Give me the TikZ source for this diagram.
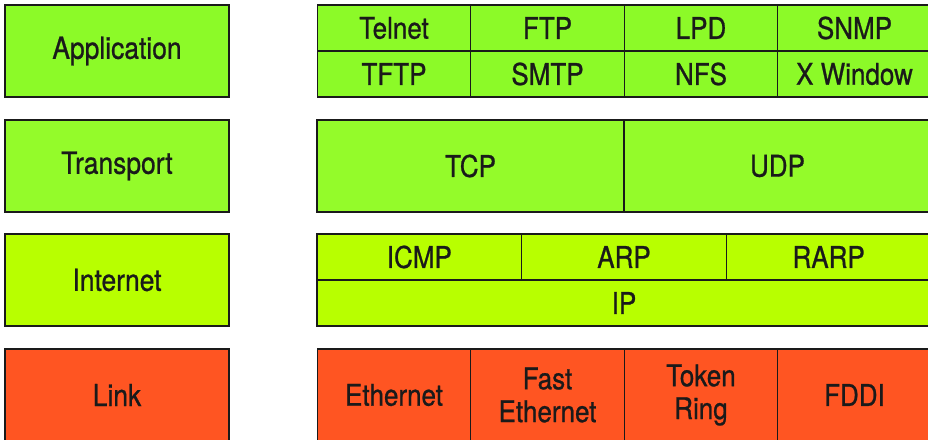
\documentclass[tikz,border=0pt]{standalone}
\usepackage{fontspec}
\setmainfont{TeX Gyre Heros}[FakeStretch=0.87, FakeBold=0.8]
\usepackage{xcolor}
\definecolor{appgreen}{HTML}{8CFA28}
\definecolor{transgreen}{HTML}{94FB2A}
\definecolor{inetlime}{HTML}{B8FF00}
\definecolor{linkred}{HTML}{FF5522}
\definecolor{edgeblk}{HTML}{1A1A1A}
\tikzset{
  layerbox/.style={
    draw=edgeblk, line width=1.5bp, inner sep=0pt, outer sep=0pt,
    minimum width=224bp, minimum height=92bp,
    font=\fontsize{30.5}{33}\selectfont, text=edgeblk
  },
  cellbox/.style={
    draw=edgeblk, line width=1.4bp, inner sep=0pt, outer sep=0pt, align=center,
    font=\fontsize{30}{33}\selectfont, text=edgeblk
  },
  quarter/.style={cellbox, minimum width=153.5bp},
  third/.style={cellbox, minimum width=204.67bp},
  half/.style={cellbox, minimum width=307bp},
}

\begin{document}
\begin{tikzpicture}[x=1bp, y=-1bp]
  \useasboundingbox (0,0) rectangle (928,440);
  \clip (0,0) rectangle (928,440);
  % layer names
  \node[layerbox, fill=appgreen] (app) at (117,51) {Application};
  \node[layerbox, fill=transgreen] (trans) at (117,166) {Transport};
  \node[layerbox, fill=inetlime] (inet) at (117,280) {Internet};
  \node[layerbox, fill=linkred] (link) at (117,395) {Link};
  % application protocols
  \node[quarter, fill=appgreen, minimum height=46bp] (a1) at (394,28) {Telnet};
  \node[quarter, fill=appgreen, minimum height=46bp] (a2) at (547.5,28) {FTP};
  \node[quarter, fill=appgreen, minimum height=46bp] (a3) at (701,28) {LPD};
  \node[quarter, fill=appgreen, minimum height=46bp] (a4) at (854.5,28) {SNMP};
  \node[quarter, fill=appgreen, minimum height=46bp] (a5) at (394,74) {TFTP};
  \node[quarter, fill=appgreen, minimum height=46bp] (a6) at (547.5,74) {SMTP};
  \node[quarter, fill=appgreen, minimum height=46bp] (a7) at (701,74) {NFS};
  \node[quarter, fill=appgreen, minimum height=46bp] (a8) at (854.5,74) {X Window};
  % transport protocols
  \node[half, fill=transgreen, minimum height=92bp] (t1) at (470.5,166) {TCP};
  \node[half, fill=transgreen, minimum height=92bp] (t2) at (777.5,166) {UDP};
  % internet protocols
  \node[third, fill=inetlime, minimum height=46bp] (i1) at (419.33,257) {ICMP};
  \node[third, fill=inetlime, minimum height=46bp] (i2) at (624,257) {ARP};
  \node[third, fill=inetlime, minimum height=46bp] (i3) at (828.67,257) {RARP};
  \node[cellbox, fill=inetlime, minimum width=614bp, minimum height=46bp] (ip) at (624,303) {IP};
  % link protocols
  \node[quarter, fill=linkred, minimum height=92bp] (l1) at (394,395) {Ethernet};
  \node[quarter, fill=linkred, minimum height=92bp] (l2) at (547.5,395) {Fast\\Ethernet};
  \node[quarter, fill=linkred, minimum height=92bp] (l3) at (701,395) {Token\\Ring};
  \node[quarter, fill=linkred, minimum height=92bp] (l4) at (854.5,395) {FDDI};
\end{tikzpicture}
\end{document}
